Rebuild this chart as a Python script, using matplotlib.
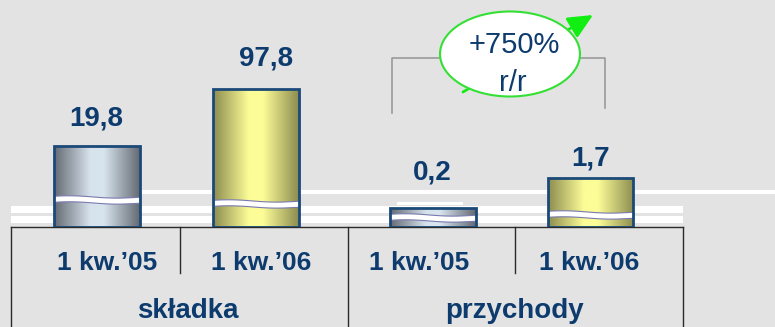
import numpy as np
import matplotlib
matplotlib.use("Agg")
import matplotlib.pyplot as plt
from matplotlib.patches import Ellipse, Rectangle, FancyArrowPatch

plt.rcParams['font.family'] = ['Liberation Sans', 'DejaVu Sans']

# --- data ---
categories = ["1 kw.\u201905", "1 kw.\u201906", "1 kw.\u201905", "1 kw.\u201906"]
groups = ["sk\u0142adka", "przychody"]
values = [19.8, 97.8, 0.2, 1.7]
value_labels = ["19,8", "97,8", "0,2", "1,7"]
# broken axis: drawn heights are not proportional to values
bar_heights = [81, 138, 19, 49]
growth_text = "+750%"
growth_sub = "r/r"

# --- layout / style ---
bar_x = np.array([0.01, 0.96, 2.01, 2.95])
bar_w = 0.51
label_x = [0.07, 0.99, 1.93, 2.94]
value_dx = [0.0, 0.06, 0.0, 0.0]
value_dy = [21, 24, 28, 13]
break_y = [28, 24, 10, 13]
bg_col = "#e3e3e3"
navy = "#0d3b6e"
edge = "#1b4a78"
grad_cols = [
    [(0.0, "#646a73"), (0.42, "#d6e2ec"), (0.58, "#d8e4ee"), (1.0, "#646a73")],
    [(0.0, "#8c8c50"), (0.42, "#fdfd98"), (0.58, "#fdfd98"), (1.0, "#8c8c50")],
    [(0.0, "#646a73"), (0.42, "#d6e2ec"), (0.58, "#d8e4ee"), (1.0, "#646a73")],
    [(0.0, "#8c8c50"), (0.42, "#fdfd98"), (0.58, "#fdfd98"), (1.0, "#8c8c50")],
]


def gradient(stops, n=256):
    pos = [s[0] for s in stops]
    rgb = np.array([matplotlib.colors.to_rgb(s[1]) for s in stops])
    t = np.linspace(0, 1, n)
    return np.stack([np.interp(t, pos, rgb[:, k]) for k in range(3)], axis=-1)[None, :, :]


W, H = 775, 327
fig = plt.figure(figsize=(W / 100, H / 100), dpi=100)
fig.patch.set_facecolor(bg_col)

# background decorations in pixel coordinates
bg = fig.add_axes([0, 0, 1, 1])
bg.set_xlim(0, W)
bg.set_ylim(H, 0)
bg.axis("off")
bg.add_patch(Rectangle((140, 190), 635, 3.5, color="white", lw=0))
bg.add_patch(Rectangle((11, 206), 672, 7, color="white", lw=0))
bg.add_patch(Rectangle((11, 216), 672, 7, color="white", lw=0))
bg.add_patch(Rectangle((397, 201.5), 66, 3, color="white", lw=0))
for xv in [11, 348, 683]:
    bg.plot([xv, xv], [227, 327], color="#2a2a2a", lw=1)
for xv in [180, 515]:
    bg.plot([xv, xv], [227, 273], color="#2a2a2a", lw=1)

# bracket + growth bubble
bg.plot([392, 392, 605, 605], [113, 58, 58, 108], color="#9a9a9a", lw=1.2)
arr = FancyArrowPatch((463, 92), (593, 15), arrowstyle="-|>,head_length=0.75,head_width=0.35",
                      mutation_scale=20, color="#11ee11", lw=2, shrinkA=0, shrinkB=0, zorder=3)
bg.add_patch(arr)
bg.add_patch(Ellipse((510, 54), 140, 85, facecolor="white", edgecolor="#33e033",
                     lw=1.5, zorder=4))
bg.text(514, 53, growth_text, ha="center", va="baseline", fontsize=21, color=navy, zorder=5)
bg.text(513, 91, growth_sub, ha="center", va="baseline", fontsize=21, color=navy, zorder=5)

# main axes with the bars
ax = fig.add_axes([11 / W, (H - 227) / H, 672 / W, 227 / H])
ax.patch.set_alpha(0)
ax.set_zorder(2)

bars = ax.bar(bar_x, bar_heights, width=bar_w, facecolor="none", edgecolor=edge,
              linewidth=2, zorder=4)
for i, r in enumerate(bars):
    x0, w, h = r.get_x(), r.get_width(), r.get_height()
    ax.imshow(gradient(grad_cols[i]), extent=[x0, x0 + w, 0, h], aspect="auto",
              zorder=2, interpolation="bicubic")
    # wavy white break mark
    t = np.linspace(0, 1, 60)
    yc = break_y[i] + 0.9 * np.sin(2 * np.pi * t + 0.3) - 1.0 * t
    ax.fill_between(x0 + w * t, yc - 3.0, yc + 3.0, facecolor="white",
                    edgecolor="#7a7ab0", lw=0.8, zorder=3)
    ax.text(r.get_x() + w / 2 + value_dx[i], h + value_dy[i], value_labels[i],
            ha="center", va="baseline", fontsize=20, fontweight="bold", color=navy)

for xl, lab in zip(label_x, categories):
    ax.text(xl, -43, lab, ha="center", va="baseline", fontsize=19,
            fontweight="bold", color=navy, clip_on=False)
for xg, g in zip([0.55, 2.5], groups):
    ax.text(xg, -91, g, ha="center", va="baseline", fontsize=20,
            fontweight="bold", color=navy, clip_on=False)

ax.set_xlim(-0.5, 3.5)
ax.set_ylim(0, 227)
for s in ["top", "left", "right"]:
    ax.spines[s].set_visible(False)
ax.spines["bottom"].set_color("#2a2a2a")
ax.spines["bottom"].set_linewidth(1)
ax.set_xticks([])
ax.set_yticks([])

fig.savefig("out.png", dpi=100, facecolor=bg_col)
